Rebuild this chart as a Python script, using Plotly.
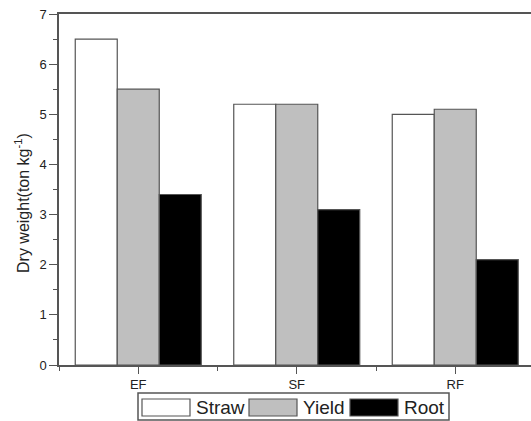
import plotly.graph_objects as go

categories = ["EF", "SF", "RF"]
cat_pos = [1, 2, 3]
series_names = ["Straw", "Yield", "Root"]
straw = [6.5, 5.2, 5.0]
yield_ = [5.5, 5.2, 5.1]
root = [3.4, 3.1, 2.1]
series_values = [straw, yield_, root]
fills = ["#ffffff", "#bfbfbf", "#000000"]
y_ticks = [0, 1, 2, 3, 4, 5, 6, 7]

W, H = 531, 421
L, R, T, B = 59, 0, 14, 56
pw, ph = W - L - R, H - T - B

fig = go.Figure()
for name, vals, col in zip(series_names, series_values, fills):
    fig.add_trace(go.Bar(x=cat_pos, y=vals, name=name, marker=dict(color=col, line=dict(color="#555555", width=1.2)),
                         showlegend=False))

axis_font = dict(family="Liberation Sans, Arial, sans-serif", size=13, color="#222222")

fig.update_layout(
    width=W, height=H,
    margin=dict(l=L, r=R, t=T, b=B),
    paper_bgcolor="white", plot_bgcolor="white",
    barmode="group", bargap=0.205, bargroupgap=0,
    font=axis_font,
    xaxis=dict(range=[0.5, 0.5 + pw / 158.5], tickmode="array", tickvals=cat_pos, ticktext=categories,
               showline=True, linecolor="#555555", linewidth=1.5, mirror=True,
               ticks="outside", ticklen=7, tickwidth=1.2, tickcolor="#555555",
               minor=dict(tick0=0.5, dtick=1, ticks="outside", ticklen=4, tickcolor="#555555", tickwidth=1.2),
               showgrid=False, zeroline=False, tickfont=axis_font),
    yaxis=dict(range=[0, 7], tickmode="array", tickvals=y_ticks,
               showline=True, linecolor="#555555", linewidth=1.5,
               ticks="outside", ticklen=8, tickwidth=1.2, tickcolor="#555555",
               minor=dict(dtick=0.5, ticks="outside", ticklen=4, tickcolor="#555555", tickwidth=1.2),
               showgrid=False, zeroline=False, tickfont=axis_font),
)

def px_x(p):
    return (p - L) / pw

def px_y(p):
    return (H - B - p) / ph

# Y-axis title
fig.add_annotation(text="Dry weight(ton kg<sup>-1</sup>)", textangle=-90, showarrow=False,
                   xref="paper", yref="paper", x=px_x(22), y=px_y(203), xanchor="center", yanchor="middle",
                   font=dict(family="Liberation Sans, Arial, sans-serif", size=16, color="#222222"))

# Custom legend box
fig.add_shape(type="rect", xref="paper", yref="paper", x0=px_x(138), x1=px_x(449), y0=px_y(393), y1=px_y(420),
              line=dict(color="#555555", width=1.5), fillcolor="white")
sw_left = [142, 249, 350]
for name, col, x0 in zip(series_names, fills, sw_left):
    fig.add_shape(type="rect", xref="paper", yref="paper", x0=px_x(x0), x1=px_x(x0 + 48),
                  y0=px_y(399), y1=px_y(416), line=dict(color="#555555", width=1.2), fillcolor=col)
    fig.add_annotation(text=name, showarrow=False, xref="paper", yref="paper",
                       x=px_x(x0 + 52), y=px_y(407.5), xanchor="left", yanchor="middle",
                       font=dict(family="Liberation Sans, Arial, sans-serif", size=19, color="#222222"))

fig.write_html("out.html", config={"displayModeBar": False},
               post_script="document.body.style.margin='0';")
